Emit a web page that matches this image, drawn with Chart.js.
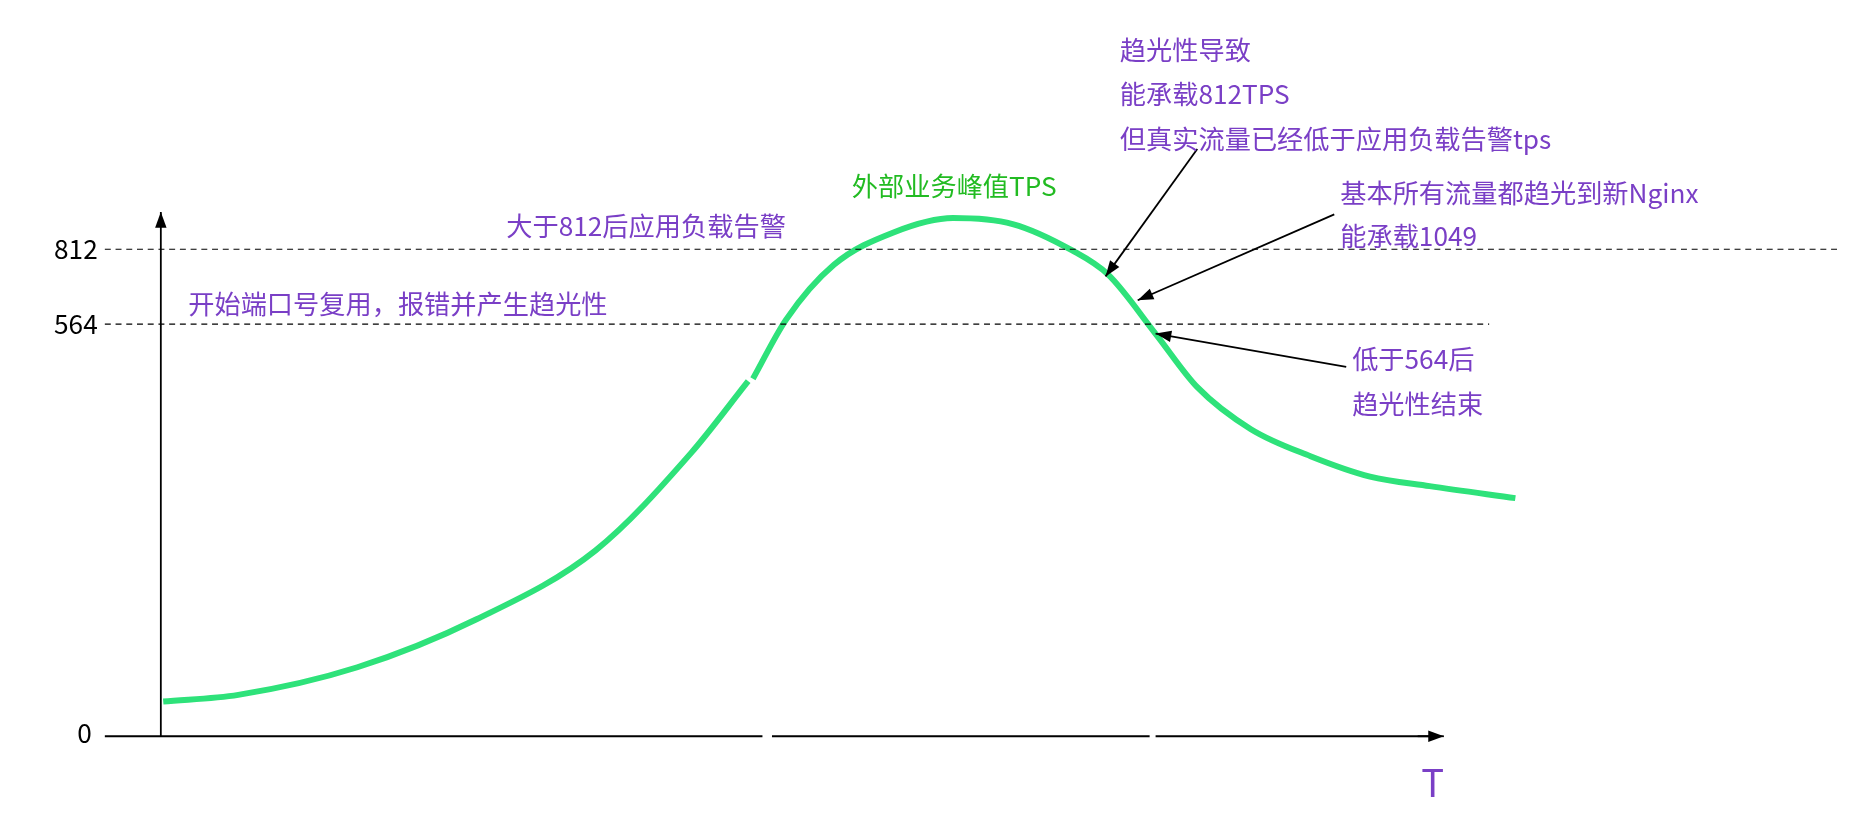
<!DOCTYPE html>
<html><head><meta charset="utf-8">
<script src="https://cdn.jsdelivr.net/npm/chart.js@4/dist/chart.umd.min.js"></script>
<style>html,body{margin:0;padding:0;background:#fff}#wrap{width:1868px;height:824px}</style>
</head><body><div id="wrap"><canvas id="c"></canvas></div>
<script>
// Time (arbitrary units) and TPS values
const timeValues = [2,65,165,265,365,445,493,495,497,525,565,615,665,715,765,795,835,870,915,965,1015,1065,1137];
const tpsValues  = [58,69,115,195,310,472,592,null,596,695,786,840,864,854,810,770,671,582,512,467,433,417,397];
const tickPositions = [0,687,812];
const tickLabels = ['0','564','812'];
const purple = '#7a3fc6', green = '#2ee27a';
const FONT = '"Noto Sans CJK SC","Noto Sans",sans-serif';
const S = 1868/1568;

const overlay = {
  id:'overlay',
  afterDraw(chart){
    const c = chart.ctx, xs = chart.scales.x, ys = chart.scales.y;
    const x0 = xs.getPixelForValue(0)/S, y0 = ys.getPixelForValue(0)/S;
    c.save();
    c.scale(S,S);
    c.strokeStyle = '#000'; c.fillStyle = '#000'; c.lineWidth = 1.5;
    const arrow = (x1,y1,x2,y2,h)=>{
      c.beginPath(); c.moveTo(x1,y1); c.lineTo(x2,y2); c.stroke();
      const a = Math.atan2(y2-y1,x2-x1);
      c.beginPath(); c.moveTo(x2,y2);
      c.lineTo(x2-h*Math.cos(a-0.35),y2-h*Math.sin(a-0.35));
      c.lineTo(x2-h*Math.cos(a+0.35),y2-h*Math.sin(a+0.35));
      c.closePath(); c.fill();
    };
    c.beginPath(); c.moveTo(88,y0); c.lineTo(640,y0); c.moveTo(648,y0); c.lineTo(965,y0); c.moveTo(970,y0); c.lineTo(1200,y0); c.stroke();
    arrow(1190,y0,1212,y0,14);
    arrow(x0,y0,x0,178,14);
    c.setLineDash([5,4]); c.lineWidth = 1;
    const y812 = ys.getPixelForValue(812)/S, y564 = ys.getPixelForValue(687)/S;
    c.beginPath(); c.moveTo(88,y812); c.lineTo(1545,y812); c.moveTo(88,y564); c.lineTo(1250,y564); c.stroke();
    c.setLineDash([]);
    c.font = '22px '+FONT; c.textAlign='right'; c.textBaseline='middle';
    tickPositions.forEach((v,i)=>c.fillText(tickLabels[i], i===0?77:82, ys.getPixelForValue(v)/S-(i===0?3:0)));
    c.lineWidth = 1.5;
    arrow(1005,125,928,232,14);
    arrow(1120,180,955,252,14);
    arrow(1130,308,970,280,14);
    c.textAlign='left'; c.textBaseline='middle';
    c.fillStyle = purple;
    const t = (s,x,y)=>c.fillText(s,x,y);
    t('大于812后应用负载告警',425,190);
    t('开始端口号复用，报错并产生趋光性',158,255);
    t('趋光性导致',940,42); t('能承载812TPS',940,79); t('但真实流量已经低于应用负载告警tps',940,117);
    t('基本所有流量都趋光到新Nginx',1125,162); t('能承载1049',1125,198);
    t('低于564后',1135,301); t('趋光性结束',1135,339);
    c.fillStyle = '#22bb22'; t('外部业务峰值TPS',715,156);
    c.fillStyle = purple; c.font = '32px '+FONT; t('T',1193,657);
    c.restore();
  }
};

new Chart(document.getElementById('c'),{
  type:'line',
  data:{datasets:[{data:timeValues.map((x,i)=>({x,y:tpsValues[i]})),borderColor:green,borderWidth:5*S,pointRadius:0,tension:0.4,cubicInterpolationMode:'monotone',spanGaps:false,fill:false}]},
  options:{
    responsive:true,maintainAspectRatio:false,animation:false,
    layout:{padding:{left:135*S,top:178*S,right:1868-1280*S,bottom:824-618*S}},
    plugins:{legend:{display:false},tooltip:{enabled:false}},
    scales:{
      x:{type:'linear',min:0,max:1145,display:false},
      y:{min:0,max:874,display:false}
    }
  },
  plugins:[overlay]
});
</script></body></html>
